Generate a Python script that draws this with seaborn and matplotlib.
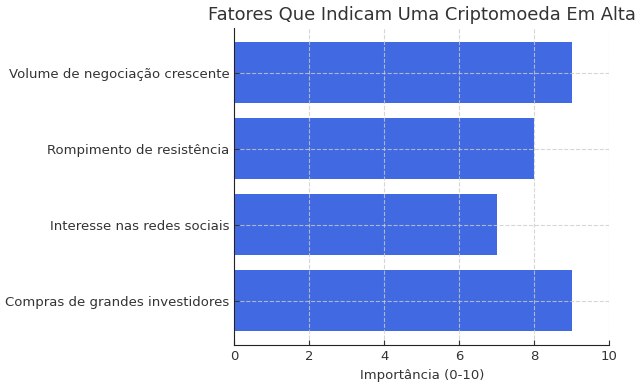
import matplotlib
matplotlib.use("Agg")
import matplotlib.pyplot as plt
import seaborn as sns
import pandas as pd

fatores = ["Volume de negociação crescente", "Rompimento de resistência",
           "Interesse nas redes sociais", "Compras de grandes investidores"]
importancia = [9, 8, 7, 9]

df = pd.DataFrame({"Fator": fatores, "Importância": importancia})

plt.rcParams["text.color"] = "#333333"
plt.rcParams["axes.labelcolor"] = "#333333"
plt.rcParams["xtick.color"] = "#333333"
plt.rcParams["ytick.color"] = "#333333"
plt.rcParams["font.family"] = ["DejaVu Sans"]

fig, ax = plt.subplots(figsize=(6.4, 3.88), dpi=100)
sns.barplot(data=df, x="Importância", y="Fator", orient="h", color="#4169E1",
            saturation=1, width=0.8, ax=ax)
n = len(fatores)
m = 0.05 * (n - 1 + 0.8)
ax.set_ylim(n - 1 + 0.4 + m, -0.4 - m)
ax.set_axisbelow(False)
ax.grid(True, linestyle="--", color="#cccccc", linewidth=0.8, alpha=0.8)
ax.set_xlim(0, 10)
ax.tick_params(labelsize=9.5, direction="in")
ax.set_xlabel("Importância (0-10)", fontsize=9.5)
ax.set_ylabel("")
ax.set_title("Fatores Que Indicam Uma Criptomoeda Em Alta", fontsize=12.9)
for s in ["top", "right"]:
    ax.spines[s].set_visible(False)
for s in ["left", "bottom"]:
    ax.spines[s].set_zorder(5)
    ax.spines[s].set_color("#222222")
fig.subplots_adjust(left=0.366, right=0.952, top=0.928, bottom=0.11)
fig.savefig("out.png", dpi=100)
